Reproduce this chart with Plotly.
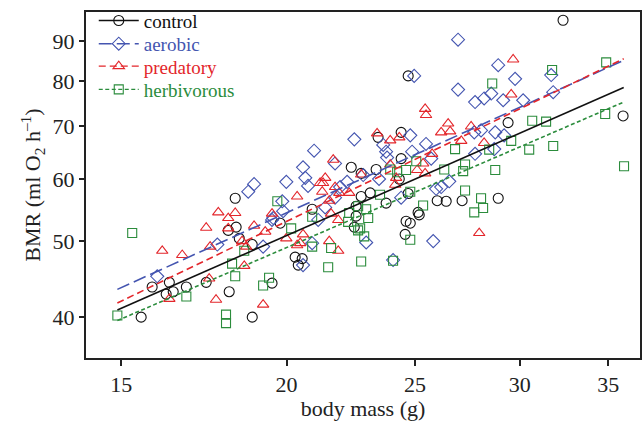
import plotly.graph_objects as go

# ---- data ----
control_x = [32.35, 24.71, 35.91, 29.40, 23.45, 24.41, 24.41, 22.38, 22.77, 23.37, 24.33, 22.77, 23.13, 23.78,
             24.71, 25.99, 26.40, 27.14, 28.90, 22.57, 20.91, 22.57, 25.14, 24.62, 24.80, 24.58, 22.50, 25.19,
             18.29, 19.78, 18.32, 18.07, 18.42, 18.84, 18.84, 15.53, 15.83, 16.22, 16.31, 16.42, 16.80, 17.39,
             18.10, 19.50, 20.30, 20.41, 20.55]
control_y = [95.6, 81.2, 72.2, 70.8, 67.8, 68.8, 63.7, 62.1, 61.0, 61.7, 60.0, 57.0, 57.6, 55.9,
             57.5, 56.3, 56.2, 56.3, 56.7, 55.4, 54.9, 53.8, 54.4, 53.0, 52.7, 51.0, 52.1, 54.0,
             56.7, 52.7, 52.1, 51.6, 50.4, 49.5, 40.0, 40.0, 43.7, 42.8, 44.3, 43.1, 43.7, 44.3,
             43.1, 44.2, 47.7, 46.6, 47.5]

aerobic_x = [26.95, 24.97, 28.90, 29.76, 31.69, 26.95, 27.76, 28.20, 28.55, 29.15, 30.18, 31.80, 22.50, 23.66,
             23.78, 23.82, 24.80, 24.88, 25.49, 25.72, 27.72, 28.05, 28.75, 29.20, 27.76, 28.70, 21.76, 22.85,
             23.49, 22.22, 21.95, 21.76, 26.54, 26.17, 25.94, 24.41, 20.98, 20.58, 20.66, 20.76, 21.39, 19.99,
             19.85, 19.88, 19.50, 18.90, 18.71, 22.97, 24.07, 25.81, 15.97, 17.73, 19.54, 19.20, 20.58, 20.91,
             21.13]
aerobic_y = [90.3, 81.2, 83.8, 80.5, 81.4, 78.0, 75.2, 76.0, 77.1, 75.6, 75.6, 77.4, 67.4, 66.3,
             65.0, 63.9, 68.2, 65.0, 66.5, 63.7, 68.8, 69.2, 68.8, 68.2, 64.6, 65.5, 62.8, 60.7,
             60.0, 59.5, 58.6, 56.8, 59.6, 58.6, 58.3, 56.8, 65.2, 62.1, 60.2, 58.8, 55.2, 59.5,
             56.2, 54.6, 53.2, 59.1, 57.8, 49.8, 47.3, 50.0, 45.1, 49.5, 53.5, 49.2, 46.6, 49.7,
             53.2]

predatory_x = [29.66, 25.45, 25.49, 29.56, 23.41, 23.95, 24.33, 26.17, 26.49, 26.58, 27.57, 27.10, 28.20, 21.69,
               21.39, 21.31, 21.76, 22.30, 21.92, 21.28, 23.95, 24.20, 25.10, 25.45, 25.36, 25.76, 24.16, 20.37,
               21.20, 21.88, 22.77, 21.54, 21.61, 21.54, 21.88, 27.96, 17.76, 18.07, 18.29, 17.39, 18.90, 19.50,
               19.27, 18.07, 16.11, 16.68, 16.31, 17.51, 17.48, 17.69, 18.58, 18.51, 18.64, 19.20, 19.99, 20.48,
               20.58, 20.37]
predatory_y = [85.2, 73.7, 72.4, 76.9, 68.6, 67.2, 67.8, 68.8, 70.6, 69.0, 70.0, 67.1, 66.7, 63.5,
               60.2, 59.3, 58.6, 57.6, 57.6, 57.8, 62.6, 60.2, 61.6, 61.0, 62.8, 64.6, 59.0, 57.0,
               59.3, 53.2, 60.8, 56.3, 54.2, 50.0, 48.6, 51.2, 54.4, 53.5, 54.3, 52.0, 52.3, 54.2,
               51.4, 51.9, 48.6, 48.0, 42.2, 49.2, 44.8, 42.1, 46.5, 50.0, 49.2, 41.5, 50.4, 49.7,
               51.0, 49.4]

herbivorous_x = [34.87, 31.74, 28.60, 30.66, 31.41, 34.81, 29.56, 30.50, 31.80, 35.97, 26.81, 28.45, 27.28, 28.75,
                 27.19, 26.31, 25.06, 24.62, 24.24, 23.95, 27.28, 28.05, 28.15, 27.72, 25.36, 24.80, 23.53, 22.97,
                 22.65, 22.30, 23.05, 22.73, 20.16, 22.26, 21.61, 21.50, 22.65, 22.89, 22.77, 24.07, 24.80, 15.29,
                 14.90, 16.80, 18.19, 18.29, 18.00, 18.00, 19.20, 19.40, 18.58, 20.91, 20.91, 19.68]
herbivorous_y = [84.5, 82.6, 79.4, 71.2, 71.0, 72.6, 67.1, 65.4, 66.1, 62.3, 65.5, 65.4, 62.6, 61.6,
                 61.4, 61.7, 63.2, 61.6, 61.2, 61.7, 58.0, 56.7, 55.1, 54.4, 55.5, 57.8, 57.3, 54.9,
                 55.4, 54.3, 53.5, 51.9, 51.9, 52.9, 49.0, 46.3, 51.6, 50.7, 47.1, 47.2, 50.2, 51.2,
                 40.2, 42.5, 46.8, 45.1, 40.3, 39.3, 43.9, 44.9, 48.6, 49.2, 53.7, 56.2]

# fitted regression lines (end points over the mass range)
fit_x = [14.9, 35.95]
control_fit = [40.85, 78.5]
aerobic_fit = [43.4, 85.0]
predatory_fit = [41.7, 85.4]
herbivorous_fit = [39.6, 75.2]

x_ticks = [15, 20, 25, 30, 35]
y_ticks = [40, 50, 60, 70, 80, 90]

groups = [
    ("control", control_x, control_y, control_fit, "#111111", "circle-open", "solid", 10),
    ("aerobic", aerobic_x, aerobic_y, aerobic_fit, "#4455b0", "diamond-open", "13px,5px", 10),
    ("predatory", predatory_x, predatory_y, predatory_fit, "#e3262b", "triangle-up-open", "7px,4px", 10),
    ("herbivorous", herbivorous_x, herbivorous_y, herbivorous_fit, "#2b8c3c", "square-open", "4px,2.5px", 9),
]

fig = go.Figure()
for name, xs, ys, fit, col, sym, dash, msize in groups:
    fig.add_trace(go.Scatter(x=xs, y=ys, mode="markers", showlegend=False,
                             marker=dict(symbol=sym, size=msize, color=col, line=dict(width=1.1, color=col))))
for name, xs, ys, fit, col, sym, dash, msize in groups:
    fig.add_trace(go.Scatter(x=fit_x, y=fit, mode="lines", showlegend=False,
                             line=dict(color=col, width=1.6, dash=dash)))

font_serif = "Liberation Serif, Times New Roman, serif"
legend_ids = ["legend", "legend2", "legend3", "legend4"]
legend_rows = [0.975, 0.908, 0.843, 0.776]   # vertical placement of each legend row (paper units)
legend_layout = {}
for (name, xs, ys, fit, col, sym, dash, msize), lid, ly in zip(groups, legend_ids, legend_rows):
    fig.add_trace(go.Scatter(x=[None], y=[None], mode="lines+markers", legend=lid,
                             name=f"<span style='color:{col}'>{name}</span>",
                             marker=dict(symbol=sym, size=msize, color=col, line=dict(width=1.1, color=col)),
                             line=dict(color=col, width=1.4, dash=dash)))
    legend_layout[lid] = dict(x=0.014, y=ly, xanchor="left", yanchor="middle", bgcolor="rgba(0,0,0,0)",
                              font=dict(family=font_serif, size=19), itemwidth=40)

fig.update_layout(
    width=644, height=421,
    margin=dict(l=86, r=4, t=2, b=63),
    paper_bgcolor="white", plot_bgcolor="white",
    font=dict(family=font_serif, size=22, color="#222"),
    xaxis=dict(type="log", range=[1.1495, 1.568], tickvals=x_ticks, ticktext=[str(v) for v in x_ticks],
               ticks="outside", ticklen=6, tickwidth=1.5, tickcolor="#222", showgrid=False, zeroline=False,
               showline=True, linecolor="#222", linewidth=2, mirror=True,
               title=dict(text="body mass (g)", standoff=4, font=dict(size=22))),
    yaxis=dict(type="log", range=[1.550, 1.991], tickvals=y_ticks, ticktext=[str(v) for v in y_ticks],
               ticks="outside", ticklen=5, tickwidth=1.5, tickcolor="#222", showgrid=False, zeroline=False,
               showline=True, linecolor="#222", linewidth=2, mirror=True,
               title=dict(text="BMR (ml O<sub>2</sub> h<sup>–1</sup>)", standoff=6, font=dict(size=22))),
    **legend_layout,
)
fig.write_html("out.html", config={"displayModeBar": False},
               post_script="document.body.style.margin='0';document.body.style.overflow='hidden';")
